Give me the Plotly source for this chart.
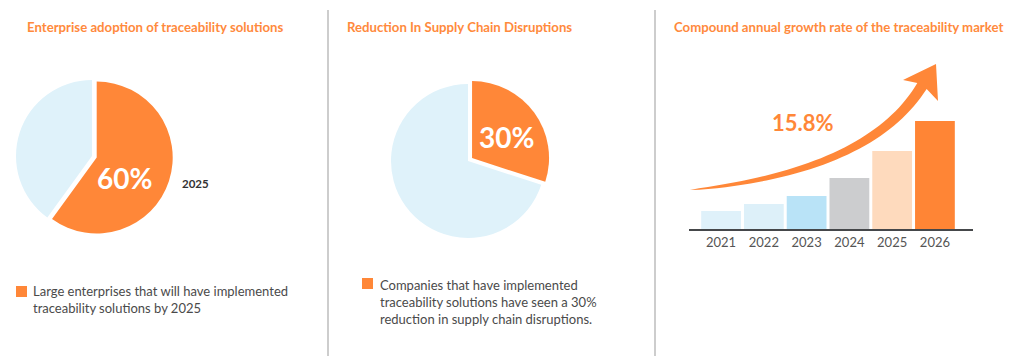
import numpy as np
import plotly.graph_objects as go

# The page body has an 8px default margin, so the figure is drawn from (8, 8).
OFF = 8
W, H = 1024 - OFF, 356 - OFF

# ---------------- data ----------------
titles = [
    "Enterprise adoption of traceability solutions",
    "Reduction In Supply Chain Disruptions",
    "Compound annual growth rate of the traceability market",
]
pie1_labels = ["Large enterprises that will have implemented traceability solutions by 2025", "Other"]
pie1_values = [60, 40]
pie1_year = "2025"
pie2_labels = ["Companies that have implemented traceability solutions have seen a 30% reduction in supply chain disruptions.", "Other"]
pie2_values = [30, 70]
years = ["2021", "2022", "2023", "2024", "2025", "2026"]
market_values = [18, 25, 33, 51, 78, 108]
cagr_label = "15.8%"

ORANGE = "#FF8738"
LIGHT = "#DFF2FA"
bar_colors = ["#DFF1FA", "#DDF0F9", "#B9E3F7", "#CCCDCF", "#FEDABD", "#FF8535"]
TITLE_ORANGE = "#FF8A3D"
FONT = "Lato"


def px(x):
    return (x - OFF) / W


def py(y):
    return 1 - (y - OFF) / H


fig = go.Figure()

# ---------------- pies ----------------
def pie_domain(cx, cy, r, pull):
    half = r * (1 + pull)
    return dict(x=[px(cx - half), px(cx + half)], y=[py(cy + half), py(cy - half)])

PULL = 0.065
fig.add_trace(go.Pie(
    labels=pie1_labels, values=pie1_values, sort=False, direction="clockwise",
    marker=dict(colors=[ORANGE, LIGHT], line=dict(width=0)),
    pull=[PULL, 0], textinfo="none", hoverinfo="label+percent",
    domain=pie_domain(92, 156, 76, PULL), showlegend=False,
))
fig.add_trace(go.Pie(
    labels=pie2_labels, values=pie2_values, sort=False, direction="clockwise",
    marker=dict(colors=[ORANGE, LIGHT], line=dict(width=0)),
    pull=[PULL, 0], textinfo="none", hoverinfo="label+percent",
    domain=pie_domain(468, 161, 77, PULL), showlegend=False,
))

# ---------------- bars ----------------
fig.add_trace(go.Bar(
    x=list(range(len(years))), y=market_values, marker=dict(color=bar_colors, line=dict(width=0)),
    width=0.93, showlegend=False, hovertext=years, hoverinfo="text+y",
))

fig.update_layout(
    width=W, height=H, margin=dict(l=0, r=0, t=0, b=0),
    paper_bgcolor="white", plot_bgcolor="rgba(0,0,0,0)",
    font=dict(family=FONT),
    xaxis=dict(domain=[px(689), px(973)], range=[-0.75, 5.89],
               tickmode="array", tickvals=list(range(len(years))), ticktext=years,
               showgrid=False, zeroline=False, showline=True, linecolor="#45474A", linewidth=2,
               ticks="", tickfont=dict(family=FONT, size=13, color="#555555"), fixedrange=True),
    yaxis=dict(domain=[py(229), py(100)], range=[0, 129], visible=False, fixedrange=True),
)

annotations = []
# titles
for t, x0 in zip(titles, [25, 345, 672]):
    annotations.append(dict(text=f"<b>{t}</b>", x=px(x0), y=py(27), xref="paper", yref="paper",
                            xanchor="left", yanchor="middle", showarrow=False,
                            font=dict(family=FONT, size=13.2, color=TITLE_ORANGE)))
# pie percentages
annotations.append(dict(text=f"<b>{pie1_values[0]}%</b>", x=px(124), y=py(178), xref="paper", yref="paper",
                        xanchor="center", yanchor="middle",
                        showarrow=False, font=dict(family=FONT, size=28, color="white")))
annotations.append(dict(text=f"<b>{pie2_values[0]}%</b>", x=px(506), y=py(137), xref="paper", yref="paper",
                        xanchor="center", yanchor="middle",
                        showarrow=False, font=dict(family=FONT, size=28, color="white")))
annotations.append(dict(text=f"<b>{pie1_year}</b>", x=px(180), y=py(183), xref="paper", yref="paper",
                        xanchor="left", yanchor="middle",
                        showarrow=False, font=dict(family=FONT, size=11.5, color="#333333")))
# legends
annotations.append(dict(text="Large enterprises that will have implemented<br>traceability solutions by 2025",
                        x=px(31), y=py(281), xref="paper", yref="paper", xanchor="left", yanchor="top",
                        align="left", showarrow=False, font=dict(family=FONT, size=13, color="#4A4A4A")))
annotations.append(dict(text="Companies that have implemented<br>traceability solutions have seen a 30%<br>reduction in supply chain disruptions.",
                        x=px(378), y=py(275), xref="paper", yref="paper", xanchor="left", yanchor="top",
                        align="left", showarrow=False, font=dict(family=FONT, size=13, color="#4A4A4A")))
# CAGR label
annotations.append(dict(text=f"<b>{cagr_label}</b>", x=px(803), y=py(122), xref="paper", yref="paper",
                        xanchor="center", yanchor="middle",
                        showarrow=False, font=dict(family=FONT, size=22, color=ORANGE)))
fig.update_layout(annotations=annotations)

shapes = []
# dividers
for xd in [328, 655]:
    shapes.append(dict(type="line", xref="paper", yref="paper", x0=px(xd), x1=px(xd), y0=py(10), y1=0,
                       line=dict(color="#BDBDBD", width=1.5)))
# legend squares
for (x0, y0) in [(16, 286), (362, 278)]:
    shapes.append(dict(type="rect", xref="paper", yref="paper", x0=px(x0), x1=px(x0 + 11),
                       y0=py(y0 + 11), y1=py(y0), fillcolor=ORANGE, line=dict(width=0)))

# growth arrow (decorative)
P0 = np.array([690.0, 190.0]); C = np.array([869.0, 172.0]); P1 = np.array([922.0, 86.0])
ts = np.linspace(0, 1, 40)
upper, lower = [], []
for t in ts:
    b = (1 - t) ** 2 * P0 + 2 * t * (1 - t) * C + t ** 2 * P1
    d = 2 * (1 - t) * (C - P0) + 2 * t * (P1 - C)
    d = d / np.linalg.norm(d)
    n = np.array([d[1], -d[0]])
    w = 11 * t ** 0.55 / 2
    upper.append(b + n * w)
    lower.append(b - n * w)
pts = upper + [np.array([903.0, 80.0]), np.array([936.0, 64.0]), np.array([938.0, 101.0])] + lower[::-1]
path = "M " + " L ".join(f"{px(p[0]):.5f},{py(p[1]):.5f}" for p in pts) + " Z"
shapes.append(dict(type="path", xref="paper", yref="paper", path=path, fillcolor=ORANGE, line=dict(width=0)))

fig.update_layout(shapes=shapes)
fig.write_html("out.html")
